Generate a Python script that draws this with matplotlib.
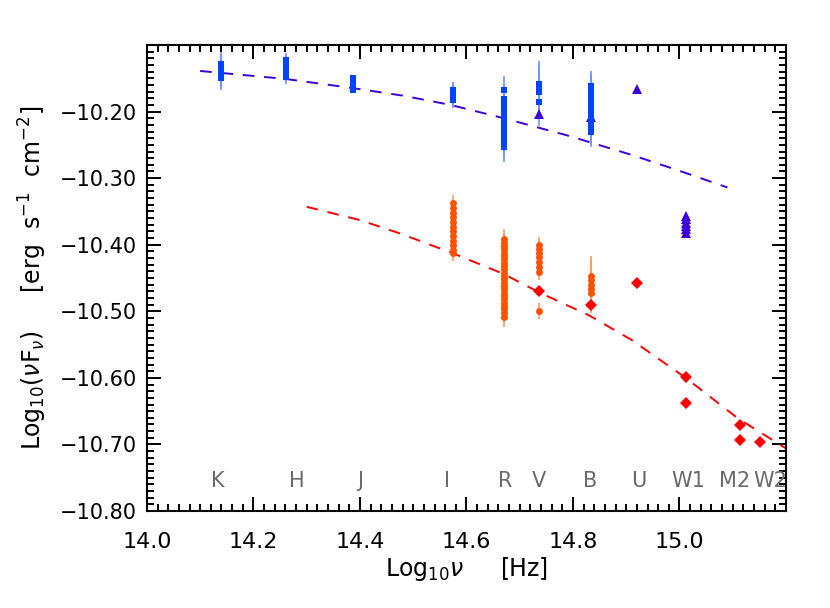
import matplotlib
matplotlib.use("Agg")
from matplotlib import pyplot as plt
from matplotlib.ticker import MultipleLocator, FuncFormatter

# band positions (log10 nu) and labels along the bottom
band_names = ["K", "H", "J", "I", "R", "V", "B", "U", "W1", "M2", "W2"]
band_label_x = [14.133, 14.282, 14.40, 14.563, 14.672, 14.736, 14.832, 14.924, 15.016, 15.104, 15.17]

# high state (blue squares), one list per band
x_blue_bands = [14.140, 14.262, 14.387, 14.574, 14.670, 14.737, 14.834]
blue_K = [-10.129, -10.132, -10.135, -10.138, -10.141, -10.144, -10.147, -10.150]
blue_H = [-10.122, -10.126, -10.130, -10.134, -10.138, -10.142, -10.146, -10.148]
blue_J = [-10.149, -10.153, -10.157, -10.161, -10.165, -10.168]
blue_I = [-10.167, -10.171, -10.175, -10.179, -10.183]
blue_R = [-10.168, -10.181, -10.185, -10.189, -10.193, -10.197, -10.201, -10.205, -10.209,
          -10.213, -10.217, -10.221, -10.225, -10.229, -10.233, -10.237, -10.241, -10.245,
          -10.249, -10.253]
blue_V = [-10.159, -10.165, -10.170, -10.186]
blue_B = [-10.161, -10.166, -10.171, -10.176, -10.181, -10.186, -10.191, -10.196, -10.201,
          -10.206, -10.211, -10.216, -10.221, -10.226, -10.231]
blue_err = [0.018, 0.010, 0.004, 0.012, 0.022, 0.035, 0.022]

# high state UVOT (purple triangles)
x_tri = [14.737, 14.834, 14.921, 15.013, 15.013, 15.013, 15.013, 15.013, 15.013]
y_tri = [-10.204, -10.208, -10.166, -10.357, -10.362, -10.367, -10.372, -10.377, -10.383]

# low state (orange circles), one list per band
x_orange_bands = [14.574, 14.670, 14.737, 14.834]
orange_I = [-10.338, -10.345, -10.352, -10.359, -10.366, -10.373, -10.380, -10.387, -10.394,
            -10.401, -10.408, -10.413]
orange_R = [-10.392, -10.397, -10.402, -10.407, -10.412, -10.417, -10.422, -10.427, -10.432,
            -10.437, -10.442, -10.447, -10.452, -10.457, -10.462, -10.467, -10.472, -10.477,
            -10.482, -10.487, -10.492, -10.497, -10.502, -10.508]
orange_V = [-10.400, -10.406, -10.412, -10.419, -10.426, -10.433, -10.441, -10.500]
orange_B = [-10.447, -10.453, -10.460, -10.466, -10.473]
orange_err = [0.012, 0.015, 0.012, 0.030]

# low state UVOT (red diamonds)
x_dia = [14.737, 14.834, 14.921, 15.013, 15.013, 15.114, 15.114, 15.151]
y_dia = [-10.470, -10.490, -10.458, -10.599, -10.638, -10.671, -10.694, -10.696]

# dashed model curves
x_fit_blue = [14.10, 14.14, 14.26, 14.38, 14.48, 14.57, 14.67, 14.79, 14.91, 15.00, 15.09]
y_fit_blue = [-10.139, -10.142, -10.151, -10.164, -10.176, -10.190, -10.210, -10.236, -10.265,
              -10.289, -10.314]
x_fit_red = [14.30, 14.40, 14.475, 14.575, 14.67, 14.74, 14.83, 14.91, 15.01, 15.11, 15.20]
y_fit_red = [-10.343, -10.363, -10.383, -10.413, -10.444, -10.473, -10.506, -10.543, -10.599,
             -10.661, -10.706]

x_ticks = [14.0, 14.2, 14.4, 14.6, 14.8, 15.0]
y_ticks = [-10.2, -10.3, -10.4, -10.5, -10.6, -10.7, -10.8]

c_blue = "#0044ff"
c_blue_err = "#6f95ff"
c_purple = "#3d00dd"
c_orange = "#ff5200"
c_orange_err = "#ff9a66"
c_red = "#ff0000"

fig = plt.figure(figsize=(8.3, 6.08), dpi=100)
ax = fig.add_axes([0.177, 0.1595, 0.77, 0.7665])

ax.plot(x_fit_blue, y_fit_blue, "--", color=c_purple, lw=1.4, dashes=(6, 5))
ax.plot(x_fit_red, y_fit_red, "--", color=c_red, lw=1.4, dashes=(6, 5))

blue_lists = [blue_K, blue_H, blue_J, blue_I, blue_R, blue_V, blue_B]
for xb, ys, e in zip(x_blue_bands, blue_lists, blue_err):
    ax.errorbar([xb] * len(ys), ys, yerr=e, fmt="s", ms=5, color=c_blue,
                ecolor=c_blue_err, elinewidth=1.2, capsize=0, mew=0)

orange_lists = [orange_I, orange_R, orange_V, orange_B]
for xo, ys, e in zip(x_orange_bands, orange_lists, orange_err):
    ax.errorbar([xo] * len(ys), ys, yerr=e, fmt="o", ms=5, color=c_orange,
                ecolor=c_orange_err, elinewidth=1.2, capsize=0, mew=0)

ax.plot(x_tri, y_tri, "^", color=c_purple, ms=7, mew=0, ls="none")
ax.plot(x_dia, y_dia, "D", color=c_red, ms=6.5, mew=0, ls="none")

for name, xl in zip(band_names, band_label_x):
    ax.text(xl, -10.755, name, color="#6a6a6a", fontsize=15, ha="center", va="center")

ax.set_xlim(14.0, 15.2)
ax.set_ylim(-10.80, -10.10)
ax.set_xticks(x_ticks)
ax.set_yticks(y_ticks)
ax.xaxis.set_minor_locator(MultipleLocator(0.02))
ax.yaxis.set_minor_locator(MultipleLocator(0.01))
ax.xaxis.set_major_formatter(FuncFormatter(lambda v, p: f"{v:.1f}"))
ax.yaxis.set_major_formatter(FuncFormatter(lambda v, p: f"{v:.2f}".replace("-", "\u2212")))
ax.tick_params(which="both", direction="in", top=True, right=True, width=1.4)
ax.tick_params(which="major", length=10)
ax.tick_params(axis="x", which="major", pad=15, labelsize=16)
ax.tick_params(axis="y", which="major", pad=7, labelsize=15)
ax.tick_params(which="minor", length=5)
for s in ax.spines.values():
    s.set_linewidth(1.5)

ax.set_xlabel(r"Log$_{10}\nu$     [Hz]", fontsize=17, labelpad=2)
ax.set_ylabel(r"Log$_{10}$($\nu$F$_\nu$)     [erg  s$^{-1}$  cm$^{-2}$]", fontsize=17, labelpad=8)

plt.savefig("out.png", dpi=100)
